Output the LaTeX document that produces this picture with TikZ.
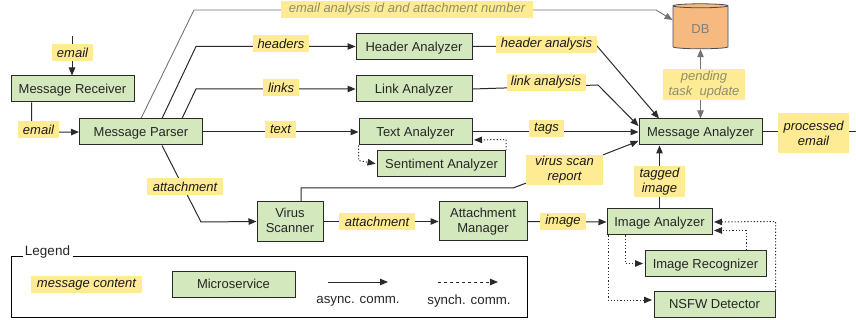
\documentclass[tikz,border=0pt]{standalone}
\usepackage{fontspec}
\setmainfont{Liberation Sans}
\usetikzlibrary{arrows.meta,shapes.geometric,calc}
\pgfdeclarelayer{bg}
\pgfsetlayers{bg,main}
\definecolor{boxgreen}{HTML}{D3E8BD}
\definecolor{lblyellow}{HTML}{FFEB94}
\definecolor{dborange}{HTML}{F6B97F}
\definecolor{dimtext}{HTML}{8E8E6E}
\definecolor{edge}{HTML}{2A2A2A}
\newcommand{\boxline}[1]{\raisebox{-4.7pt}[0pt][0pt]{#1}}
\tikzset{
  x=1pt,y=-1pt,
  msvc/.style={draw=edge,line width=1pt,fill=boxgreen,inner sep=0pt,align=center,font=\fontsize{13}{15}\selectfont,text=black!85},
  lbl/.style={fill=lblyellow,inner sep=0pt,align=center,font=\fontsize{13}{15}\selectfont\itshape,text=black!90},
  dimlbl/.style={lbl,text=dimtext},
  arr/.style={line width=1pt,draw=edge,-{Triangle[length=8pt,width=6.5pt]}},
  plain/.style={line width=1pt,draw=edge},
  garr/.style={line width=0.9pt,draw=black!55,-{Triangle[length=8pt,width=6.5pt]}},
  dotarr/.style={line width=1pt,draw=edge,dash pattern=on 1.2pt off 2pt,shorten >=1.5pt,-{Triangle[length=8pt,width=6.5pt]}},
}
\begin{document}
\begin{tikzpicture}
\useasboundingbox (0,0) rectangle (856,320);
% legend frame
\node[draw=black,line width=0.9pt,minimum width=516pt,minimum height=61pt,inner sep=0pt] (legend) at (269,287) {};
\node[fill=white,inner sep=0pt,minimum width=50pt,minimum height=14pt,font=\fontsize{13.5}{15}\selectfont,text=black!85] (legendtitle) at (47.5,252) {Legend};
% services
\node[msvc,minimum width=123pt,minimum height=26pt] (rcv) at (72.5,89) {\boxline{Message Receiver}};
\node[msvc,minimum width=123pt,minimum height=26pt] (parser) at (141,132) {\boxline{Message Parser}};
\node[msvc,minimum width=116pt,minimum height=26pt] (header) at (414,46.5) {\boxline{Header Analyzer}};
\node[msvc,minimum width=116pt,minimum height=26pt] (link) at (414,89) {\boxline{Link Analyzer}};
\node[msvc,minimum width=113pt,minimum height=26pt] (text) at (415.5,132) {\boxline{Text Analyzer}};
\node[msvc,minimum width=128pt,minimum height=26pt] (senti) at (441.5,164) {\boxline{Sentiment Analyzer}};
\node[msvc,minimum width=123pt,minimum height=26pt] (manal) at (700.5,132) {\boxline{Message Analyzer}};
\node[msvc,minimum width=66pt,minimum height=40pt,text depth=3pt] (virus) at (290,221.5) {Virus\\Scanner};
\node[msvc,minimum width=88pt,minimum height=39pt] (attm) at (483,221.5) {Attachment\\Manager};
\node[msvc,minimum width=105pt,minimum height=26pt] (ianal) at (659.5,222) {\boxline{Image Analyzer}};
\node[msvc,minimum width=121pt,minimum height=26pt] (irec) at (705.5,263.5) {\boxline{Image Recognizer}};
\node[msvc,minimum width=121pt,minimum height=26pt] (nsfw) at (714.5,304) {\boxline{NSFW Detector}};
\node[msvc,minimum width=123pt,minimum height=26pt] (lgbox) at (233.5,284) {\boxline{Microservice}};
% database
\node[draw=black!70,line width=0.8pt,fill=dborange,shape=cylinder,shape border rotate=90,aspect=0.22,minimum width=55pt,minimum height=45pt,inner sep=0pt,font=\fontsize{13}{15}\selectfont,text=black!50] (db) at (700.5,27.5) {\raisebox{-6.5pt}[0pt][0pt]{DB}};
% labels
\coordinate (inlet) at (72,36);
\coordinate (outlet) at (856,132);
\node[lbl,minimum width=41pt,minimum height=17pt] (l1) at (72.5,52.5) {email};
\node[lbl,minimum width=41pt,minimum height=17pt] (l2) at (38.5,129.5) {email};
\node[lbl,minimum width=56pt,minimum height=17pt] (l3) at (281,43.5) {headers};
\node[lbl,minimum width=36pt,minimum height=17pt] (l4) at (281,87.5) {links};
\node[lbl,minimum width=31pt,minimum height=17pt] (l5) at (280.5,129.5) {text};
\node[dimlbl,minimum width=252pt,minimum height=17pt] (l6) at (407,9.5) {email analysis id and attachment number};
\node[lbl,minimum width=101pt,minimum height=17pt] (l7) at (546.5,44.5) {header analysis};
\node[lbl,minimum width=79pt,minimum height=17pt] (l8) at (546,82.5) {link analysis};
\node[lbl,minimum width=35pt,minimum height=17pt] (l9) at (546.5,128.5) {tags};
\node[lbl,minimum width=77pt,minimum height=30pt] (l10) at (564.5,170) {virus scan\\report};
\node[lbl,minimum width=76pt,minimum height=17pt] (l11) at (185,186.5) {attachment};
\node[lbl,minimum width=76pt,minimum height=17pt] (l12) at (377,221.5) {attachment};
\node[lbl,minimum width=46pt,minimum height=17pt] (l13) at (563,221.5) {image};
\node[lbl,minimum width=51pt,minimum height=31pt] (l14) at (659.5,181.5) {tagged\\image};
\node[dimlbl,minimum width=82pt,minimum height=31pt] (l15) at (704,84.5) {pending\\task\ \ update};
\node[lbl,minimum width=71pt,minimum height=40pt] (l16) at (813.5,133) {processed\\email};
\node[lbl,minimum width=111pt,minimum height=17pt] (lgl) at (86.5,284.5) {message content};
% legend connectors
\coordinate (asyncA) at (328,282);
\coordinate (asyncB) at (388,282);
\coordinate (syncA) at (438,282);
\coordinate (syncB) at (498,282);
\node[font=\fontsize{13.3}{15}\selectfont,text=black!85,inner sep=0pt] (asynct) at (358,301) {async. comm.};
\node[font=\fontsize{13.3}{15}\selectfont,text=black!85,inner sep=0pt] (synct) at (469,301) {synch. comm.};
\begin{pgfonlayer}{bg}
\draw[arr] (inlet) -- (rcv.north -| inlet);
\draw[arr] ([xshift=-41pt]rcv.south) -- ++(0,30) -- (parser.west |- 0,132);
\draw[arr] ([xshift=21pt]parser.north) -- (196,46.5) -- (header.west);
\draw[arr] ([xshift=41pt]parser.north) -- (196,89) -- (link.west);
\draw[arr] (parser.east) -- (text.west);
\draw[garr] (parser.north) -- (194,10) -- (656,10) -- (db.165);
\draw[arr] (header.east) -- (597,46) -- ([xshift=-41.5pt]manal.north);
\draw[arr] (link.east) -- (598,85) -- ([yshift=6pt]manal.west);
\draw[arr] (text.east) -- (manal.west);
\draw[plain] ([xshift=11pt]virus.north) -- ++(0,-13) -- (513,188) -- ([yshift=2pt]l10.south west);
\draw[arr] (l10.north east) -- ([yshift=-9pt]manal.west);
\draw[arr] ([xshift=21pt]parser.south) -- (201,222) -- (virus.west);
\draw[arr] (virus.east) -- (attm.west);
\draw[arr] (attm.east) -- (ianal.west);
\draw[arr] (ianal.north) -- (manal.south -| ianal.north);
\draw[garr,{Triangle[length=8pt,width=6.5pt]}-{Triangle[length=8pt,width=6.5pt]}] (db.south) -- (manal.north);
\draw[plain] (manal.east) -- (outlet);
\draw[dotarr] (text.south west) -- ++(0,15) -- (senti.west);
\draw[dotarr] (senti.north east) -- ++(0,-11) -- ([yshift=-8pt]text.east);
\draw[dotarr] ([xshift=-34.5pt]ianal.south) -- (625,263.5) -- (irec.west);
\draw[dotarr] ([xshift=-51.5pt]ianal.south) -- (608,300) -- ([yshift=4pt]nsfw.west);
\draw[dotarr] ([xshift=40.5pt]irec.north) -- ++(0,-19.5) -- ([yshift=-8.5pt]ianal.east);
\draw[dotarr] (nsfw.north east) -- ++(0,-69) -- (ianal.east);
\draw[arr] (asyncA) -- (asyncB);
\draw[arr,dashed] (syncA) -- (syncB);
\end{pgfonlayer}
\end{tikzpicture}
\end{document}
